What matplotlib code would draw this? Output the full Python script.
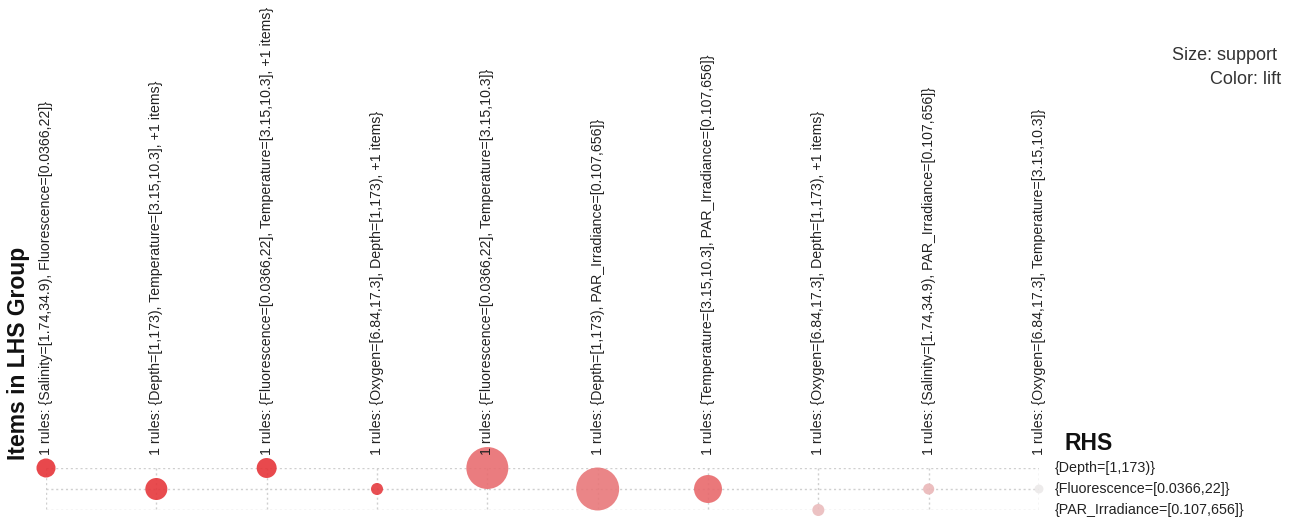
import matplotlib
matplotlib.use("Agg")
import matplotlib.pyplot as plt
import numpy as np
from matplotlib.colors import LinearSegmentedColormap, Normalize

plt.rcParams['font.family'] = ['Liberation Sans', 'DejaVu Sans']

# LHS groups (one column each) and RHS items (one row each)
lhs_groups = [
    "1 rules: {Salinity=[1.74,34.9), Fluorescence=[0.0366,22]}",
    "1 rules: {Depth=[1,173), Temperature=[3.15,10.3], +1 items}",
    "1 rules: {Fluorescence=[0.0366,22], Temperature=[3.15,10.3], +1 items}",
    "1 rules: {Oxygen=[6.84,17.3], Depth=[1,173), +1 items}",
    "1 rules: {Fluorescence=[0.0366,22], Temperature=[3.15,10.3]}",
    "1 rules: {Depth=[1,173), PAR_Irradiance=[0.107,656]}",
    "1 rules: {Temperature=[3.15,10.3], PAR_Irradiance=[0.107,656]}",
    "1 rules: {Oxygen=[6.84,17.3], Depth=[1,173), +1 items}",
    "1 rules: {Salinity=[1.74,34.9), PAR_Irradiance=[0.107,656]}",
    "1 rules: {Oxygen=[6.84,17.3], Temperature=[3.15,10.3]}",
]
rhs_items = [
    "{Depth=[1,173)}",
    "{Fluorescence=[0.0366,22]}",
    "{PAR_Irradiance=[0.107,656]}",
]

# Rule for each LHS group: which RHS it implies, its support and lift
rule_rhs = [0, 1, 0, 1, 0, 1, 1, 2, 1, 1]
support = [0.050, 0.067, 0.055, 0.020, 0.243, 0.255, 0.108, 0.020, 0.017, 0.011]
lift = [3.20, 3.15, 3.18, 3.10, 2.50, 2.39, 2.56, 1.57, 1.64, 1.04]

W, H = 1299, 521
fig = plt.figure(figsize=(W / 100, H / 100), dpi=100)

x0, x1 = 46, 1039
ytop, ybot = 468, 510
ax = fig.add_axes([x0 / W, (H - ybot) / H, (x1 - x0) / W, (ybot - ytop) / H])
ax.set_xlim(0, len(lhs_groups) - 1)
ax.set_ylim(len(rhs_items) - 1, 0)
ax.axis('off')

cols = np.arange(len(lhs_groups))
rows = np.arange(len(rhs_items))

grid_kw = dict(color='#cfcfcf', linestyle=(0, (1.5, 2.0)), linewidth=1.0, zorder=1)
ax.hlines(rows, 0, len(lhs_groups) - 1, **grid_kw)
ax.vlines(cols, 0, len(rhs_items) - 1, **grid_kw)

cmap = LinearSegmentedColormap.from_list('lift', ['#ECECEC', '#E63438'])
norm = Normalize(vmin=1.0, vmax=3.2)
sizes = np.array(support) / 1.38e-4 * 0.5184
ax.scatter(cols, rule_rhs, s=sizes, c=lift, cmap=cmap, norm=norm,
           alpha=0.9, linewidths=0, zorder=3, clip_on=False)

# LHS group labels, rotated above each column
for i, lab in enumerate(lhs_groups):
    ax.annotate(lab, xy=(i, 0), xytext=(0, 13), textcoords='offset pixels',
                rotation=90, ha='center', va='bottom', fontsize=10.2,
                color='#222222', annotation_clip=False)

# RHS labels on the right of each row
for j, lab in enumerate(rhs_items):
    ax.annotate(lab, xy=(len(lhs_groups) - 1, j), xytext=(16, 0),
                textcoords='offset pixels', ha='left', va='center',
                fontsize=10.3, color='#222222', annotation_clip=False)

fig.text(1065 / W, 1 - 443 / H, "RHS", fontsize=16.5, fontweight='bold',
         ha='left', va='center', color='#111111')
fig.text(19 / W, 1 - 460 / H, "Items in LHS Group", fontsize=16.5,
         fontweight='bold', rotation=90, ha='center', va='bottom', color='#111111')

fig.text(1277 / W, 1 - 55 / H, "Size: support", fontsize=13, ha='right',
         va='center', color='#333333')
fig.text(1281 / W, 1 - 80 / H, "Color: lift", fontsize=13, ha='right',
         va='center', color='#333333')

fig.savefig("out.png", dpi=100, facecolor='white')
